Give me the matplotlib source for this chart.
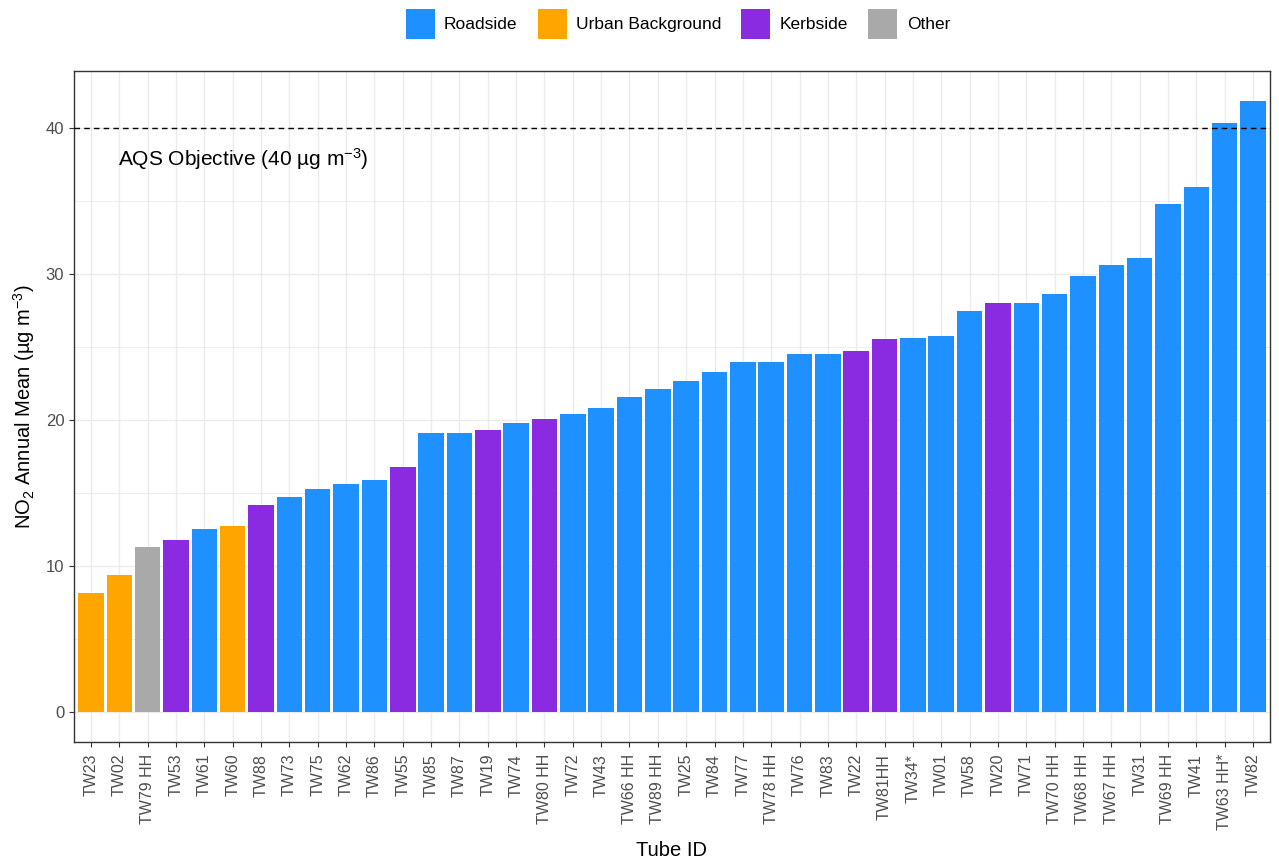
import numpy as np
import matplotlib.pyplot as plt
from matplotlib.patches import Patch

plt.rcParams['font.family'] = ['Liberation Sans', 'DejaVu Sans']
plt.rcParams['mathtext.fontset'] = 'custom'
plt.rcParams['mathtext.rm'] = 'Liberation Sans'
plt.rcParams['mathtext.it'] = 'Liberation Sans'

#%% data
tubes = ['TW23', 'TW02', 'TW79 HH', 'TW53', 'TW61', 'TW60', 'TW88', 'TW73', 'TW75',
         'TW62', 'TW86', 'TW55', 'TW85', 'TW87', 'TW19', 'TW74', 'TW80 HH', 'TW72',
         'TW43', 'TW66 HH', 'TW89 HH', 'TW25', 'TW84', 'TW77', 'TW78 HH', 'TW76',
         'TW83', 'TW22', 'TW81HH', 'TW34*', 'TW01', 'TW58', 'TW20', 'TW71', 'TW70 HH',
         'TW68 HH', 'TW67 HH', 'TW31', 'TW69 HH', 'TW41', 'TW63 HH*', 'TW82']
no2 = [8.1, 9.4, 11.3, 11.8, 12.5, 12.7, 14.2, 14.7, 15.25, 15.6, 15.9, 16.75,
       19.1, 19.1, 19.3, 19.8, 20.05, 20.4, 20.85, 21.6, 22.1, 22.7, 23.3, 24.0,
       24.0, 24.55, 24.55, 24.7, 25.55, 25.65, 25.75, 27.5, 28.0, 28.05, 28.65,
       29.85, 30.65, 31.1, 34.8, 36.0, 40.4, 41.85]
site = ['Urban Background', 'Urban Background', 'Other', 'Kerbside', 'Roadside',
        'Urban Background', 'Kerbside', 'Roadside', 'Roadside', 'Roadside', 'Roadside',
        'Kerbside', 'Roadside', 'Roadside', 'Kerbside', 'Roadside', 'Kerbside',
        'Roadside', 'Roadside', 'Roadside', 'Roadside', 'Roadside', 'Roadside',
        'Roadside', 'Roadside', 'Roadside', 'Roadside', 'Kerbside', 'Kerbside',
        'Roadside', 'Roadside', 'Roadside', 'Kerbside', 'Roadside', 'Roadside',
        'Roadside', 'Roadside', 'Roadside', 'Roadside', 'Roadside', 'Roadside',
        'Roadside']
kolory = {'Roadside': '#1E90FF', 'Urban Background': '#FFA500',
          'Kerbside': '#8A2BE2', 'Other': '#A9A9A9'}
objective = 40

#%% plot
fig = plt.figure(figsize=(12.79, 8.61), dpi=100)
ax = fig.add_axes([74/1279, 1-742/861, (1270-74)/1279, (742-71)/861])

x = np.arange(len(tubes))
ax.bar(x, no2, width=0.9, color=[kolory[s] for s in site], zorder=2)
ax.axhline(objective, ls=(0, (4, 3)), c='black', lw=1, zorder=3)
ax.text(0.95, 37.9, 'AQS Objective (40 µg m$^{-3}$)', fontsize=15,
        va='center', ha='left', color='black')

ax.set_xlim(-0.6, len(tubes) - 0.4)
ax.set_ylim(-2.09, 43.94)
ax.set_xticks(x)
ax.set_xticklabels(tubes, rotation=90, fontsize=11.5, color='#4D4D4D')
ax.set_yticks([0, 10, 20, 30, 40])
ax.set_yticks([5, 15, 25, 35], minor=True)
ax.tick_params(axis='y', labelsize=12, labelcolor='#4D4D4D', color='#333333')
ax.tick_params(axis='x', color='#333333', pad=5)
ax.tick_params(which='minor', length=0)
ax.grid(True, which='major', color='#EBEBEB', lw=1, zorder=0)
ax.grid(True, which='minor', axis='y', color='#EBEBEB', lw=0.6, zorder=0)
ax.set_axisbelow(True)
for s in ax.spines.values():
    s.set_color('#333333')
    s.set_linewidth(1)

ax.set_xlabel('Tube ID', fontsize=14.5, labelpad=8)
ax.set_ylabel('NO$_2$ Annual Mean (µg m$^{-3}$)', fontsize=14.5, labelpad=6)

uchwyty = [Patch(facecolor=kolory[k], edgecolor='none', label=k)
           for k in ['Roadside', 'Urban Background', 'Kerbside', 'Other']]
fig.legend(handles=uchwyty, loc='center', bbox_to_anchor=(0.530, 1-24/861), ncol=4,
           frameon=False, fontsize=12.5, handlelength=1.67, handleheight=2.3,
           handletextpad=0.55, columnspacing=1.15)

fig.savefig('out.png', dpi=100)
